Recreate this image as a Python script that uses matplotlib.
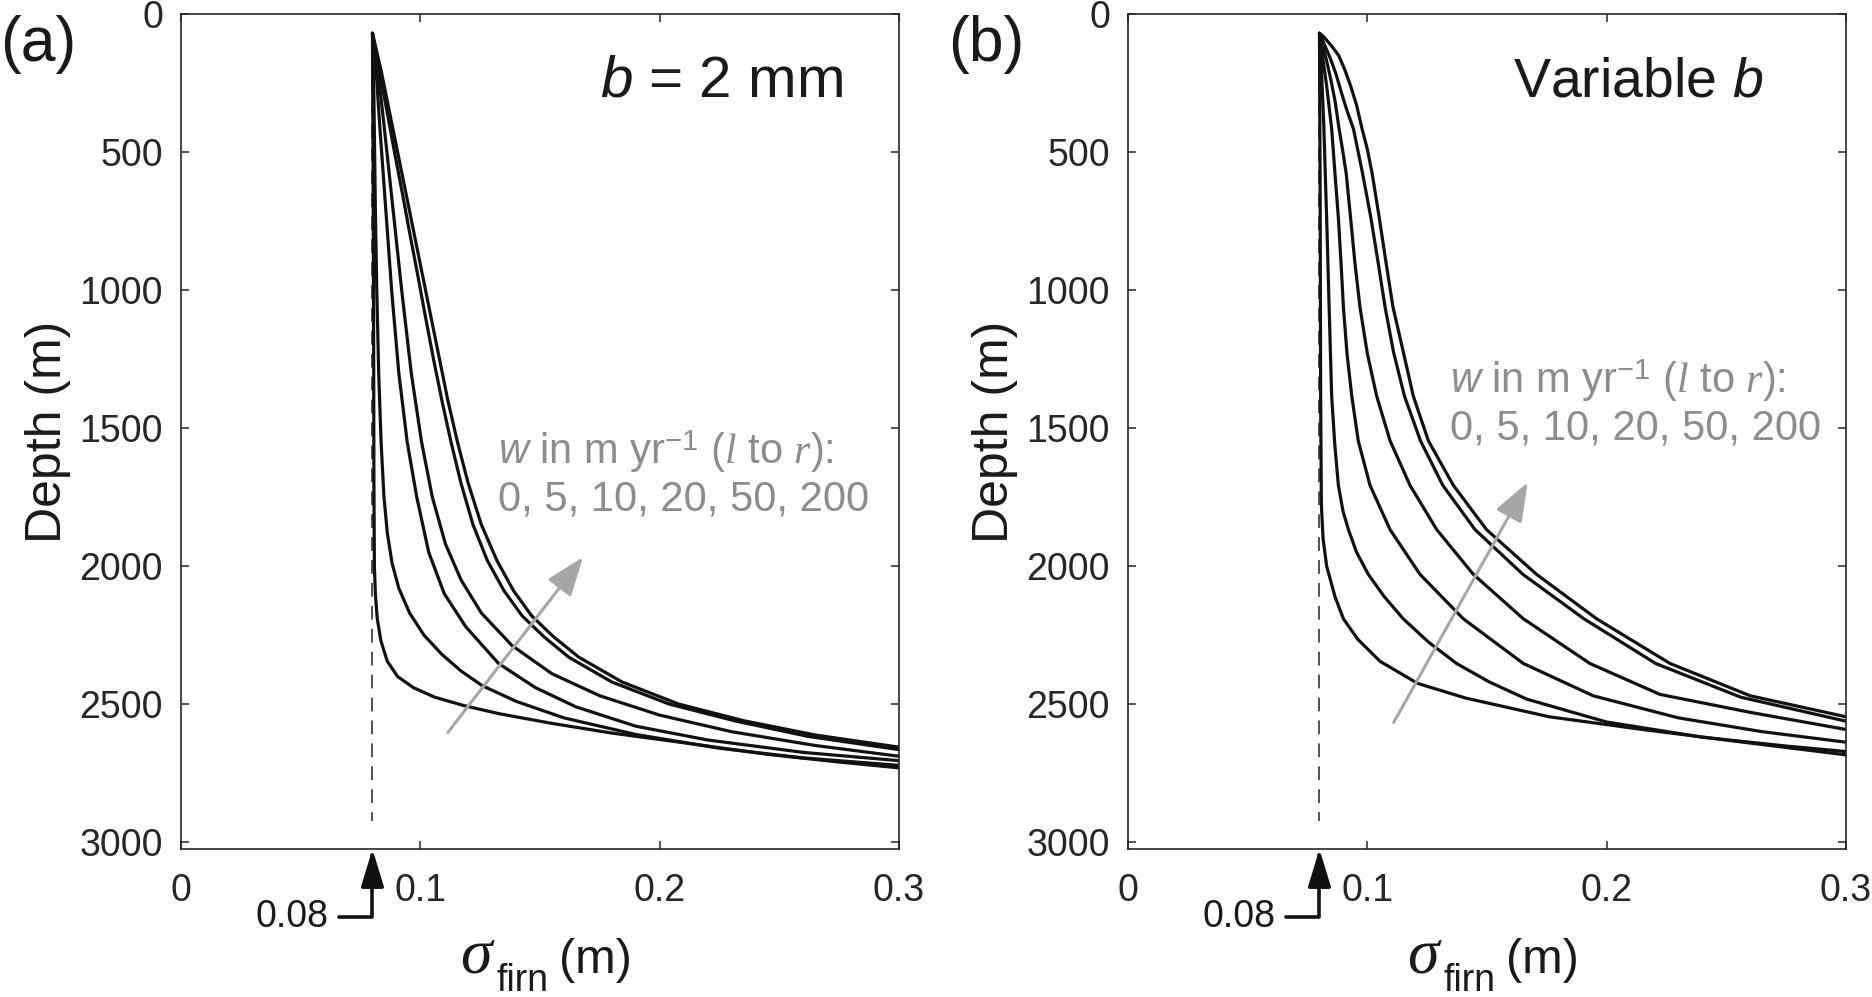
import numpy as np
import matplotlib
matplotlib.use("Agg")
import matplotlib.pyplot as plt

plt.rcParams['font.family'] = ['Liberation Sans', 'DejaVu Sans']
plt.rcParams['mathtext.fontset'] = 'custom'
plt.rcParams['mathtext.rm'] = 'Liberation Sans'
plt.rcParams['mathtext.it'] = 'Liberation Serif:italic'
plt.rcParams['mathtext.sf'] = 'Liberation Sans:italic'
plt.rcParams['mathtext.bf'] = 'Liberation Sans:bold'

# accumulation rates w (m/yr), left to right
w_labels = [0, 5, 10, 20, 50, 200]

# panel (a): b = 2 mm  -- sigma_firn (m) vs depth (m)
a_w0_x = [0.0800, 0.0803, 0.0805, 0.0806, 0.0808, 0.0812, 0.0820, 0.0835, 0.0862, 0.0905, 0.0970, 0.1060, 0.1180, 0.1330, 0.1550, 0.1800, 0.2100, 0.2450, 0.2750, 0.3000]
a_w0_d = [70, 600, 1200, 1700, 2000, 2100, 2190, 2270, 2345, 2400, 2440, 2475, 2505, 2535, 2570, 2605, 2640, 2682, 2710, 2731]
a_w5_x = [0.0800, 0.0806, 0.0812, 0.0818, 0.0826, 0.0836, 0.0848, 0.0862, 0.0882, 0.0910, 0.0955, 0.1015, 0.1090, 0.1170, 0.1258, 0.1400, 0.1600, 0.1900, 0.2250, 0.2600, 0.3000]
a_w5_d = [70, 300, 700, 1000, 1300, 1550, 1750, 1880, 1990, 2080, 2170, 2250, 2320, 2380, 2433, 2490, 2550, 2610, 2660, 2695, 2722]
a_w10_x = [0.0800, 0.0815, 0.0830, 0.0855, 0.0880, 0.0910, 0.0945, 0.0985, 0.1035, 0.1100, 0.1190, 0.1327, 0.1480, 0.1650, 0.1900, 0.2200, 0.2600, 0.3000]
a_w10_d = [70, 200, 400, 700, 1000, 1300, 1550, 1750, 1950, 2100, 2220, 2353, 2440, 2510, 2580, 2630, 2675, 2705]
a_w20_x = [0.0800, 0.0822, 0.0848, 0.0885, 0.0922, 0.0962, 0.1005, 0.1050, 0.1105, 0.1170, 0.1255, 0.1383, 0.1550, 0.1750, 0.2000, 0.2300, 0.2650, 0.3000]
a_w20_d = [70, 200, 400, 700, 1000, 1300, 1550, 1750, 1920, 2050, 2170, 2288, 2390, 2470, 2540, 2600, 2650, 2689]
a_w50_x = [0.0800, 0.0828, 0.0860, 0.0892, 0.0925, 0.0957, 0.0990, 0.1022, 0.1055, 0.1090, 0.1128, 0.1170, 0.1220, 0.1280, 0.1350, 0.1425, 0.1515, 0.1620, 0.1800, 0.2040, 0.2320, 0.2620, 0.3000]
a_w50_d = [70, 200, 350, 500, 650, 800, 950, 1100, 1250, 1400, 1550, 1700, 1850, 1980, 2090, 2180, 2255, 2330, 2420, 2500, 2562, 2617, 2665]
a_w200_x = [0.0800, 0.0835, 0.0870, 0.0905, 0.0940, 0.0975, 0.1010, 0.1045, 0.1080, 0.1115, 0.1155, 0.1200, 0.1255, 0.1320, 0.1390, 0.1465, 0.1555, 0.1662, 0.1843, 0.2080, 0.2350, 0.2650, 0.3000]
a_w200_d = [70, 200, 350, 500, 650, 800, 950, 1100, 1250, 1400, 1550, 1700, 1850, 1980, 2090, 2180, 2255, 2330, 2420, 2500, 2560, 2612, 2656]

# panel (b): variable b
b_w0_x = [0.0800, 0.0803, 0.0805, 0.0808, 0.0815, 0.0830, 0.0865, 0.0900, 0.0960, 0.1053, 0.1210, 0.1410, 0.1760, 0.2150, 0.2570, 0.3000]
b_w0_d = [70, 700, 1400, 1780, 1900, 2000, 2111, 2191, 2265, 2345, 2425, 2478, 2546, 2592, 2638, 2684]
b_w5_x = [0.0800, 0.0808, 0.0818, 0.0830, 0.0840, 0.0851, 0.0864, 0.0879, 0.0898, 0.0921, 0.0955, 0.1004, 0.1070, 0.1150, 0.1255, 0.1373, 0.1510, 0.1666, 0.2000, 0.2400, 0.2750, 0.3000]
b_w5_d = [70, 200, 400, 739, 1050, 1384, 1560, 1707, 1800, 1868, 1950, 2030, 2110, 2191, 2275, 2353, 2420, 2482, 2565, 2620, 2652, 2672]
b_w10_x = [0.0800, 0.0812, 0.0830, 0.0851, 0.0865, 0.0879, 0.0890, 0.0900, 0.0915, 0.0935, 0.0962, 0.1011, 0.1095, 0.1220, 0.1401, 0.1652, 0.1944, 0.2300, 0.2650, 0.3000]
b_w10_d = [70, 150, 260, 416, 580, 739, 900, 1061, 1230, 1384, 1546, 1707, 1868, 2030, 2191, 2353, 2470, 2550, 2600, 2638]
b_w20_x = [0.0800, 0.0815, 0.0830, 0.0848, 0.0866, 0.0882, 0.0898, 0.0912, 0.0930, 0.0948, 0.0969, 0.1000, 0.1039, 0.1095, 0.1178, 0.1290, 0.1443, 0.1652, 0.1930, 0.2223, 0.2600, 0.3000]
b_w20_d = [70, 120, 170, 240, 320, 416, 500, 580, 739, 900, 1061, 1230, 1384, 1546, 1707, 1868, 2030, 2191, 2353, 2465, 2530, 2592]
b_w50_x = [0.0800, 0.0820, 0.0845, 0.0870, 0.0890, 0.0915, 0.0942, 0.0980, 0.1015, 0.1045, 0.1074, 0.1109, 0.1155, 0.1222, 0.1315, 0.1450, 0.1650, 0.1905, 0.2205, 0.2560, 0.3000]
b_w50_d = [70, 110, 160, 220, 280, 350, 416, 577, 739, 900, 1061, 1223, 1384, 1546, 1707, 1868, 2030, 2191, 2353, 2475, 2562]
b_w200_x = [0.0800, 0.0815, 0.0830, 0.0850, 0.0880, 0.0905, 0.0930, 0.0955, 0.0978, 0.1000, 0.1020, 0.1050, 0.1078, 0.1107, 0.1150, 0.1192, 0.1255, 0.1359, 0.1498, 0.1707, 0.1958, 0.2265, 0.2600, 0.3000]
b_w200_d = [70, 80, 95, 115, 150, 200, 260, 330, 416, 490, 577, 739, 900, 1061, 1223, 1384, 1546, 1707, 1868, 2030, 2191, 2353, 2470, 2546]

panels = [
    {'tag': '(a)', 'title': r'$\mathsf{b}$ = 2 mm', 'title_x': 0.922, 'title_size': 42,
     'curves': [(a_w0_x, a_w0_d), (a_w5_x, a_w5_d), (a_w10_x, a_w10_d),
                (a_w20_x, a_w20_d), (a_w50_x, a_w50_d), (a_w200_x, a_w200_d)],
     'arrow': [(0.1115, 2603), (0.168, 1968)], 'note_xy': (0.1325, 1665)},
    {'tag': '(b)', 'title': r'Variable $\mathsf{b}$', 'title_x': 0.884, 'title_size': 40,
     'curves': [(b_w0_x, b_w0_d), (b_w5_x, b_w5_d), (b_w10_x, b_w10_d),
                (b_w20_x, b_w20_d), (b_w50_x, b_w50_d), (b_w200_x, b_w200_d)],
     'arrow': [(0.111, 2567), (0.167, 1697)], 'note_xy': (0.1345, 1408)},
]

note = (r'$\mathsf{w}$ in m yr$^{-1}$ ($\mathit{l}$ to $\mathit{r}$):' + '\n'
        + ', '.join(str(w) for w in w_labels))

fig = plt.figure(figsize=(18.72, 9.97), dpi=100)
lefts = [181 / 1872, 1128 / 1872]
tag_x = [0 / 1872, 948 / 1872]

for p, left, tx in zip(panels, lefts, tag_x):
    ax = fig.add_axes([left, 148 / 997, 718 / 1872, 835 / 997])

    ax.plot([0.08, 0.08], [70, 2925], color='#222222', lw=1.1,
            linestyle=(0, (9, 6)), zorder=1)
    for xs, ds in p['curves']:
        ax.plot(xs, ds, color='#111111', lw=2.3, zorder=2,
                solid_joinstyle='round', solid_capstyle='round')

    ax.set_xlim(0, 0.3)
    ax.set_ylim(3025, 0)
    ax.set_xticks([0, 0.1, 0.2, 0.3])
    ax.set_xticklabels(['0', '0.1', '0.2', '0.3'])
    ax.set_yticks(np.arange(0, 3001, 500))
    ax.tick_params(direction='in', length=6, width=1.1, top=True, right=True,
                   labelsize=27, labelcolor='#262626', color='#262626')
    ax.tick_params(axis='x', pad=17)
    ax.tick_params(axis='y', pad=13)
    for s in ax.spines.values():
        s.set_linewidth(1.2)
        s.set_color('#262626')

    ax.set_ylabel('Depth (m)', fontsize=36, labelpad=6, color='#1a1a1a')

    # x label built from pieces: large serif sigma, sans subscript, unit
    ax.text(0.3886, -0.1485, '\u03c3', transform=ax.transAxes, fontsize=46,
            family='Liberation Serif', style='italic', color='#1a1a1a',
            ha='left', va='baseline')
    ax.text(0.440, -0.1700, 'firn', transform=ax.transAxes, fontsize=27,
            color='#1a1a1a', ha='left', va='baseline')
    ax.text(0.5265, -0.1485, '(m)', transform=ax.transAxes, fontsize=35,
            color='#1a1a1a', ha='left', va='baseline')

    ax.text(p['title_x'], 0.901, p['title'], transform=ax.transAxes,
            fontsize=p['title_size'], ha='right', va='baseline', color='#1a1a1a')

    ax.text(p['note_xy'][0], p['note_xy'][1], note, fontsize=30,
            color='#8c8c8c', ha='left', va='center', linespacing=1.15)

    (x0, y0), (x1, y1) = p['arrow']
    ax.annotate('', xy=(x1, y1), xytext=(x0, y0),
                arrowprops=dict(arrowstyle='-|>,head_length=24,head_width=9',
                                mutation_scale=1, color='#a6a6a8', lw=2.2,
                                shrinkA=0, shrinkB=0))

    ax.annotate('0.08', xy=(0.08, 3025), xytext=(0.0615, 3270),
                textcoords='data', fontsize=27, color='#1a1a1a',
                ha='right', va='center', annotation_clip=False,
                arrowprops=dict(arrowstyle='-|>,head_length=23,head_width=7',
                                mutation_scale=1, color='#111111', lw=2.6,
                                connectionstyle='angle,angleA=0,angleB=90,rad=0',
                                shrinkA=6, shrinkB=0))

    fig.text(tx, 952 / 997, p['tag'], fontsize=45, ha='left', va='center',
             color='#1a1a1a')

fig.savefig('out.png', dpi=100)
